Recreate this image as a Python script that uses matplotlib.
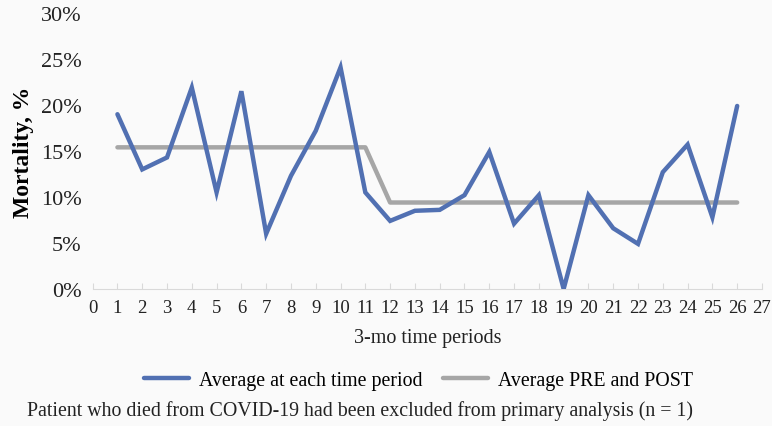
import matplotlib
matplotlib.use("Agg")
import matplotlib.pyplot as plt
from matplotlib.ticker import PercentFormatter

plt.rcParams['font.family'] = ['Liberation Serif', 'DejaVu Serif']

periods = list(range(1, 27))
avg_each = [19.0, 13.0, 14.3, 21.9, 10.5, 21.5, 6.0, 12.3, 17.2, 24.1,
            10.5, 7.4, 8.5, 8.6, 10.2, 14.9, 7.1, 10.2, 0.0, 10.2,
            6.6, 4.9, 12.7, 15.7, 7.8, 19.9]
avg_pre_post = [15.4] * 11 + [9.4] * 15

BLUE = "#5170b2"; GRAY = "#a6a6a6"; BG = "#fafafa"

fig = plt.figure(figsize=(7.72, 4.27), dpi=100, facecolor=BG)
ax = fig.add_axes([0.120, 0.321, 0.867, 0.646], facecolor=BG)

ax.plot(periods, avg_each, color=BLUE, lw=3.2, solid_capstyle="round", solid_joinstyle="miter",
        label="Average at each time period", zorder=3)
ax.plot(periods, avg_pre_post, color=GRAY, lw=3.2, solid_capstyle="round",
        label="Average PRE and POST", zorder=2)

ax.set_xlim(0, 27); ax.set_ylim(0, 30)
ax.set_xticks(range(0, 28))
ax.set_yticks(range(0, 31, 5))
ax.yaxis.set_major_formatter(PercentFormatter(decimals=0))
for s in ["top", "right", "left"]:
    ax.spines[s].set_visible(False)
ax.spines["bottom"].set_color("#d9d9d9")
ax.tick_params(axis="x", direction="in", length=4, color="#d9d9d9", labelsize=13.5, pad=7, labelcolor="#222")
ax.tick_params(axis="y", length=0, labelsize=16, pad=8, labelcolor="#222")
ax.set_ylabel("Mortality, %", fontsize=17, fontweight="bold", labelpad=5)
ax.set_xlabel("3-mo time periods", fontsize=14.5, labelpad=9, color="#222")

fig.legend(loc="center", bbox_to_anchor=(0.542, 0.107), ncol=2, frameon=False, fontsize=14.3,
           handlelength=2.3, columnspacing=1.0, handletextpad=0.5)
fig.text(0.035, 0.025, "Patient who died from COVID-19 had been excluded from primary analysis (n = 1)",
         fontsize=14.3, color="#222")

fig.savefig("out.png", dpi=100, facecolor=BG)
